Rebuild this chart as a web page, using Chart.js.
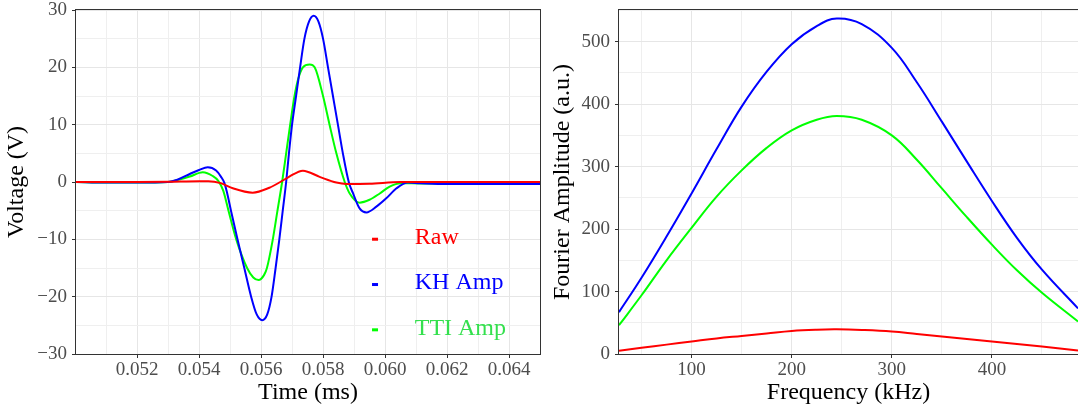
<!DOCTYPE html>
<html>
<head>
<meta charset="utf-8">
<script src="https://cdn.jsdelivr.net/npm/chart.js@4.4.0/dist/chart.umd.min.js"></script>
<style>
  html, body { margin: 0; padding: 0; background: #fff; }
  #wrap { position: relative; width: 1078px; height: 409px; overflow: hidden; }
  #left { position: absolute; left: 0; top: 0; }
  #right { position: absolute; left: 545px; top: 0; }
</style>
</head>
<body>
<div id="wrap">
  <canvas id="left" width="545" height="409"></canvas>
  <canvas id="right" width="533" height="409"></canvas>
</div>
<script>
// ---- left panel: time signals (ms, V)
var raw_t = [0.0500, 0.0520, 0.0530, 0.0540, 0.0543, 0.0547, 0.05509, 0.05573, 0.05627, 0.05662, 0.0569, 0.05735, 0.05789, 0.05843, 0.05875, 0.0595, 0.0605, 0.0650];
var raw_v = [0.0, 0.0, 0.05, 0.15, 0.15, -0.2, -1.1, -1.86, -1.0, 0.0, 0.9, 1.98, 0.9, -0.1, -0.35, -0.3, 0.0, 0.0];

var kh_t = [0.0500, 0.0510, 0.0520, 0.0530, 0.0533, 0.0537, 0.0540, 0.05428, 0.05455, 0.05471, 0.05482, 0.05490, 0.05503, 0.05524, 0.05546, 0.05568, 0.05586, 0.05604, 0.05620, 0.05634, 0.05647, 0.05659, 0.0567, 0.05681, 0.0569, 0.0570, 0.05713, 0.05726, 0.0574, 0.05755, 0.0577, 0.05785, 0.0580, 0.05816, 0.05832, 0.05848, 0.05864, 0.05883, 0.05897, 0.05918, 0.0594, 0.05972, 0.06004, 0.06037, 0.06074, 0.06112, 0.0620, 0.0635, 0.0650];
var kh_v = [0.0, -0.1, -0.1, 0.0, 0.4, 1.4, 2.1, 2.56, 2.0, 0.9, -0.2, -1.8, -5, -10, -15, -20, -23.1, -24.1, -23.1, -20, -15, -10, -5, 0, 5, 10, 15, 20, 25, 28.0, 29.0, 28.0, 25, 20, 15, 10, 5, 0, -2.0, -4.6, -5.3, -4.3, -2.85, -1.1, -0.1, -0.2, -0.35, -0.35, -0.35];

var tti_t = [0.0500, 0.0510, 0.0520, 0.0530, 0.0533, 0.0537, 0.05412, 0.05444, 0.05462, 0.05478, 0.05495, 0.0552, 0.05555, 0.05575, 0.05592, 0.05610, 0.05619, 0.05638, 0.05653, 0.05668, 0.05681, 0.05694, 0.05708, 0.0572, 0.05735, 0.05757, 0.05773, 0.0580, 0.05821, 0.05843, 0.0587, 0.05886, 0.05918, 0.0595, 0.05983, 0.06015, 0.0605, 0.0612, 0.0635, 0.0650];
var tti_v = [0.0, -0.1, -0.1, 0.0, 0.35, 0.95, 1.69, 1.05, 0.2, -1.5, -5, -10, -15, -16.65, -17.1, -16.2, -15, -10, -5, 0, 5, 10, 15, 18, 20, 20.5, 20, 15, 10, 5, 0, -2.0, -3.6, -3.1, -2.0, -0.8, -0.2, -0.25, -0.25, -0.25];

var time_grid = [0.051, 0.052, 0.053, 0.054, 0.055, 0.056, 0.057, 0.058, 0.059, 0.060, 0.061, 0.062, 0.063, 0.064, 0.065];
var time_labels = [0.052, 0.054, 0.056, 0.058, 0.060, 0.062, 0.064];
var volt_grid = [-30, -25, -20, -15, -10, -5, 0, 5, 10, 15, 20, 25, 30];
var volt_labels = [-30, -20, -10, 0, 10, 20, 30];

// ---- right panel: spectra (kHz, a.u.)
var freq = [27.5, 50, 75, 100, 125, 150, 175, 200, 225, 245, 270, 300, 325, 350, 375, 400, 425, 450, 486];
var kh_amp = [67, 122, 188, 257, 328, 396, 452, 496, 525, 537, 528, 490, 435, 372, 308, 245, 186, 135, 73];
var tti_amp = [46, 94, 150, 202, 252, 294, 330, 358, 375, 381, 375, 350, 311, 265, 219, 175, 134, 98, 52];
var raw_amp = [5, 10, 15, 20, 25, 29, 33, 37, 39, 39.5, 38.5, 36, 32, 28, 24, 20, 16, 12, 5.5];

var freq_grid = [50, 100, 150, 200, 250, 300, 350, 400, 450];
var freq_labels = [100, 200, 300, 400];
var amp_grid = [0, 50, 100, 150, 200, 250, 300, 350, 400, 450, 500, 550];
var amp_labels = [0, 100, 200, 300, 400, 500];

var series_names = ['Raw', 'KH Amp', 'TTI Amp'];
var series_colors = ['#ff0000', '#0000ff', '#00ff00'];
var legend_text_colors = ['#ff0000', '#0000ff', '#33e04d'];

var SERIF = "'Liberation Serif', 'Times New Roman', serif";

function pts(xs, ys) {
  return xs.map(function (x, i) { return { x: x, y: ys[i] }; });
}

function line(label, xs, ys, color, smooth) {
  var ds = {
    label: label, data: pts(xs, ys), borderColor: color, backgroundColor: color,
    borderWidth: 2, pointRadius: 0, fill: false
  };
  if (smooth) ds.tension = 0.4; else ds.cubicInterpolationMode = 'monotone';
  return ds;
}

function fmtMinus(v, digits) {
  var s = Math.abs(v).toFixed(digits);
  return v < 0 ? '\u2212' + s : s;
}

// scale with major (labelled) + minor grid lines, ggplot-like
function axis(opts) {
  var isMajor = function (v) {
    return opts.labels.some(function (l) { return Math.abs(l - v) < 1e-9; });
  };
  return {
    type: 'linear', min: opts.min, max: opts.max,
    afterBuildTicks: function (sc) { sc.ticks = opts.grid.map(function (v) { return { value: v }; }); },
    afterFit: opts.fit,
    ticks: {
      autoSkip: false, maxRotation: 0, padding: opts.pad,
      color: '#4d4d4d', font: { family: SERIF, size: 19, lineHeight: opts.lh },
      callback: function (v) { return isMajor(v) ? fmtMinus(v, opts.digits) : ''; }
    },
    grid: {
      color: function (c) { return c.tick && isMajor(c.tick.value) ? '#e6e6e6' : '#efefef'; },
      lineWidth: 1,
      tickLength: 4,
      tickColor: function (c) { return c.tick && isMajor(c.tick.value) ? '#333333' : 'rgba(0,0,0,0)'; }
    },
    border: { display: false },
    title: {
      display: true, text: opts.title, color: '#000',
      font: { family: SERIF, size: 24, lineHeight: 1 }, padding: opts.titlePad
    }
  };
}

var framePlugin = {
  id: 'frame',
  afterDraw: function (chart) {
    var a = chart.chartArea, ctx = chart.ctx;
    ctx.save();
    ctx.strokeStyle = '#333333';
    ctx.lineWidth = 1;
    ctx.strokeRect(Math.round(a.left) - 0.5, Math.round(a.top) - 0.5, Math.round(a.right - a.left) + 1, Math.round(a.bottom - a.top) + 1);
    ctx.restore();
  }
};

var legendPlugin = {
  id: 'inlineLegend',
  afterDraw: function (chart) {
    var a = chart.chartArea, ctx = chart.ctx;
    var w = a.right - a.left, h = a.bottom - a.top;
    ctx.save();
    ctx.font = '24px ' + SERIF;
    ctx.textBaseline = 'middle';
    ctx.textAlign = 'left';
    series_names.forEach(function (name, i) {
      var y = a.top + h * 0.662 + i * 45.3;
      ctx.fillStyle = series_colors[i];
      ctx.fillRect(a.left + w * 0.638, y, 6, 3);
      ctx.fillStyle = legend_text_colors[i];
      ctx.fillText(name, a.left + w * 0.73, y);
    });
    ctx.restore();
  }
};

new Chart(document.getElementById('left'), {
  type: 'line',
  data: {
    datasets: [
      line(series_names[0], raw_t, raw_v, series_colors[0], false),
      line(series_names[1], kh_t, kh_v, series_colors[1], false),
      line(series_names[2], tti_t, tti_v, series_colors[2], false)
    ]
  },
  options: {
    responsive: false, animation: false,
    layout: { padding: { left: 0, right: 5, top: 10, bottom: 0 } },
    plugins: { legend: { display: false }, tooltip: { enabled: false } },
    scales: {
      x: axis({ min: 0.05003, max: 0.065, grid: time_grid, labels: time_labels, digits: 3, pad: 3, lh: 1,
        title: 'Time (ms)', titlePad: { top: 0, bottom: 4 }, fit: function (s) { s.height = 55; } }),
      y: axis({ min: -30, max: 30, grid: volt_grid, labels: volt_labels, digits: 0, pad: 5, lh: 0.5,
        title: 'Voltage (V)', titlePad: { top: 5, bottom: 0 }, fit: function (s) { s.width = 76; } })
    }
  },
  plugins: [framePlugin, legendPlugin]
});

new Chart(document.getElementById('right'), {
  type: 'line',
  data: {
    datasets: [
      line(series_names[0], freq, raw_amp, series_colors[0], true),
      line(series_names[1], freq, kh_amp, series_colors[1], true),
      line(series_names[2], freq, tti_amp, series_colors[2], true)
    ]
  },
  options: {
    responsive: false, animation: false,
    layout: { padding: { left: 0, right: 0, top: 10, bottom: 0 } },
    plugins: { legend: { display: false }, tooltip: { enabled: false } },
    scales: {
      x: axis({ min: 27.5, max: 486, grid: freq_grid, labels: freq_labels, digits: 0, pad: 3, lh: 1,
        title: 'Frequency (kHz)', titlePad: { top: 0, bottom: 4 }, fit: function (s) { s.height = 55; } }),
      y: axis({ min: 0, max: 550.7, grid: amp_grid, labels: amp_labels, digits: 0, pad: 5, lh: 0.5,
        title: 'Fourier Amplitude (a.u.)', titlePad: { top: 6, bottom: 0 }, fit: function (s) { s.width = 74; } })
    }
  },
  plugins: [framePlugin]
});
</script>
</body>
</html>
